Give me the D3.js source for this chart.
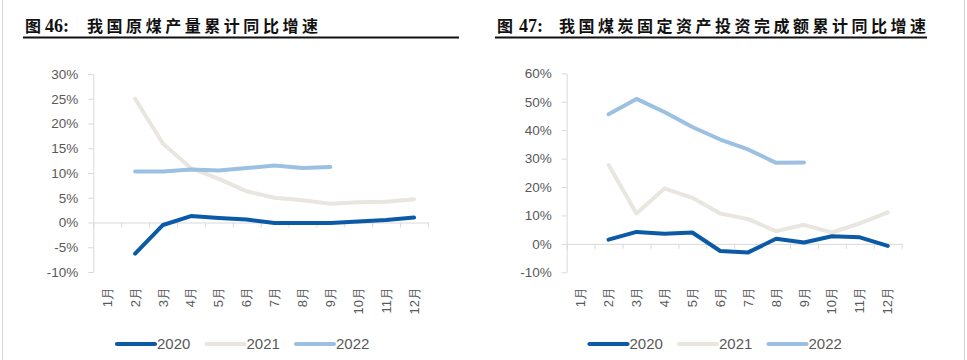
<!DOCTYPE html>
<html><head><meta charset="utf-8">
<script src="https://cdn.jsdelivr.net/npm/d3@7/dist/d3.min.js"></script>
<style>
html,body{margin:0;padding:0;background:#fff;}
svg{display:block;}
</style>
</head><body>
<svg id="c" width="967" height="360"></svg>
<script>
const months = ["1月","2月","3月","4月","5月","6月","7月","8月","9月","10月","11月","12月"];
const years = ["2020","2021","2022"];
const colors = ["#0a5aa8","#e8e6df","#9cc0e2"];

// 图46 原煤产量累计同比 (%)
const coal2020 = [null,-6.3,-0.5,1.3,0.9,0.6,-0.1,-0.1,-0.1,0.2,0.5,1.0];
const coal2021 = [null,25.0,15.9,11.0,8.8,6.3,5.0,4.5,3.8,4.1,4.2,4.7];
const coal2022 = [null,10.3,10.3,10.7,10.5,11.0,11.5,11.0,11.2,null,null,null];
const yTicksL = [-10,-5,0,5,10,15,20,25,30];

// 图47 煤炭固定资产投资完成额累计同比 (%)
const inv2020 = [null,1.5,4.2,3.6,4.0,-2.5,-3.0,1.8,0.5,2.7,2.3,-0.7];
const inv2021 = [null,27.7,10.7,19.5,16.2,10.7,8.7,4.5,6.7,4.0,7.2,11.1];
const inv2022 = [null,45.6,51.0,46.4,41.1,36.7,33.2,28.5,28.6,null,null,null];
const yTicksR = [-10,0,10,20,30,40,50,60];

const svg = d3.select("#c");
const textCol = "#595959";
const axisCol = "#d9d9d9";

// outer borders
svg.append("line").attr("x1",2.5).attr("x2",2.5).attr("y1",0).attr("y2",360).attr("stroke","#d4d4d4").attr("stroke-width",1);
svg.append("line").attr("x1",964.5).attr("x2",964.5).attr("y1",0).attr("y2",360).attr("stroke","#d4d4d4").attr("stroke-width",1);

function title(cfg){
  const t = svg.append("text").attr("y",32).attr("fill","#111");
  t.append("tspan").attr("x",cfg.x0).attr("font-family","'Noto Sans CJK SC'").attr("font-weight",700).attr("font-size",16).text("图");
  t.append("tspan").attr("x",cfg.x1).attr("font-family","'Liberation Serif'").attr("font-weight",700).attr("font-size",18).text(cfg.num);
  t.append("tspan").attr("x",cfg.x2).attr("font-family","'Noto Sans CJK SC'").attr("font-weight",700).attr("font-size",16)
    .attr("textLength",cfg.len).attr("lengthAdjust","spacing").text(cfg.text);
  svg.append("line").attr("x1",cfg.u0).attr("x2",cfg.u1).attr("y1",37.5).attr("y2",37.5).attr("stroke","#111").attr("stroke-width",1.8);
}

function chart(cfg){
  const x = d3.scaleBand().domain(months).range([cfg.left,cfg.right]).padding(0);
  const y = d3.scaleLinear().domain(cfg.domain).range([cfg.bottom,cfg.top]);
  const g = svg.append("g");

  // y axis
  const ya = g.append("g").attr("transform",`translate(${cfg.left},0)`)
    .call(d3.axisLeft(y).tickValues(cfg.ticks).tickSize(5).tickSizeOuter(0).tickPadding(10).tickFormat(d=>d+"%"));
  ya.select(".domain").attr("stroke",axisCol);
  ya.selectAll(".tick line").attr("stroke",axisCol);
  ya.selectAll(".tick text").attr("fill",textCol).attr("font-family","'Liberation Sans', Arial, sans-serif").attr("font-size",13.5);

  // zero line with ticks at category boundaries
  const xb = d3.scaleLinear().domain([0,12]).range([cfg.left,cfg.right]);
  const xa = g.append("g").attr("transform",`translate(0,${y(0)})`)
    .call(d3.axisBottom(xb).tickValues(d3.range(0,13)).tickSize(5).tickSizeOuter(0).tickFormat(""));
  xa.select(".domain").attr("stroke",axisCol);
  xa.selectAll(".tick line").attr("stroke",axisCol);

  // month labels (rotated)
  g.selectAll("text.m").data(months).join("text").attr("class","m")
    .attr("transform",d=>`translate(${x(d)+x.bandwidth()/2},${cfg.labelY}) rotate(-90)`)
    .attr("text-anchor","end").attr("dy","0.35em")
    .attr("fill",textCol).attr("font-family","'Liberation Sans', Arial, sans-serif").attr("font-size",13)
    .text(d=>d);

  const line = d3.line().defined(d=>d!=null).x((d,i)=>x(months[i])+x.bandwidth()/2).y(d=>y(d));
  const order = [1,2,0];
  order.forEach(k=>{
    g.append("path").datum(cfg.series[k]).attr("d",line).attr("fill","none")
      .attr("stroke",colors[k]).attr("stroke-width",4).attr("stroke-linecap","round").attr("stroke-linejoin","round");
  });

  // legend
  years.forEach((yr,i)=>{
    const lx = cfg.legX + i*89.5;
    g.append("line").attr("x1",lx).attr("x2",lx+38).attr("y1",344).attr("y2",344)
      .attr("stroke",colors[i]).attr("stroke-width",4.2).attr("stroke-linecap","round");
    g.append("text").attr("x",lx+40).attr("y",344).attr("dy","0.36em")
      .attr("fill",textCol).attr("font-family","'Liberation Sans', Arial, sans-serif").attr("font-size",15).text(yr);
  });
}

title({x0:25,x1:45,num:"46:",x2:87,len:231,text:"我国原煤产量累计同比增速",u0:23,u1:459});
title({x0:497,x1:519,num:"47:",x2:559,len:367,text:"我国煤炭固定资产投资完成额累计同比增速",u0:495,u1:927});

chart({left:93.3,right:428,top:74,bottom:272,domain:[-10,30],ticks:yTicksL,labelY:287,legX:117,
  series:[coal2020,coal2021,coal2022]});
chart({left:566.7,right:901.7,top:73.3,bottom:272.3,domain:[-10,60],ticks:yTicksR,labelY:287,legX:589.5,
  series:[inv2020,inv2021,inv2022]});
</script>
</body></html>
